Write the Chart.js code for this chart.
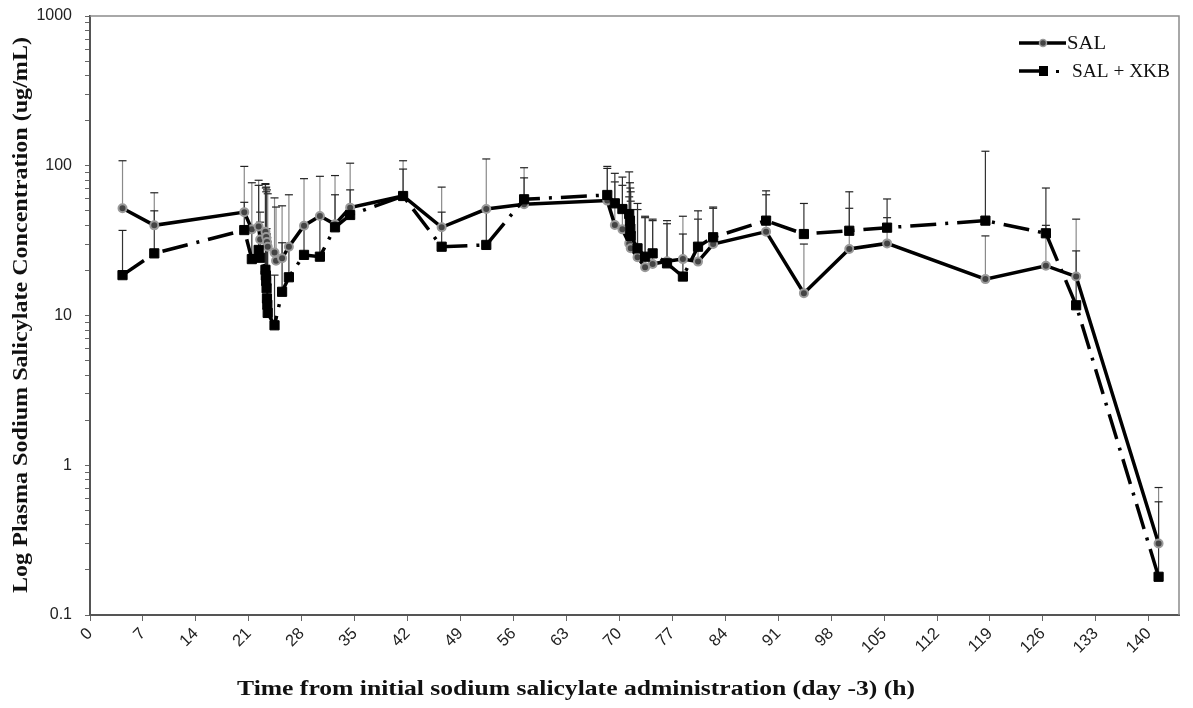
<!DOCTYPE html>
<html>
<head>
<meta charset="utf-8">
<script src="https://cdn.jsdelivr.net/npm/chart.js@4/dist/chart.umd.min.js"></script>
<style>
  body { margin: 0; background: #fff; }
  canvas { display: block; }
</style>
</head>
<body>
<canvas id="canvas" width="1193" height="708"></canvas>
<script>
"use strict";

// time (h) and mean concentration (ug/mL), upper error bar end
var salTime = [4.3, 8.5, 20.4, 21.4, 22.3, 22.5, 23.2, 23.3, 23.4, 23.5, 24.4, 24.6, 25.4, 26.3, 28.3, 30.4, 32.4, 34.4, 41.4, 46.5, 52.4, 57.4, 68.4, 69.4, 70.4, 71.3, 71.5, 72.4, 73.4, 74.4, 76.3, 78.4, 80.4, 82.4, 89.4, 94.4, 100.4, 105.4, 118.4, 126.4, 130.4, 141.3];
var salConc = [52, 40, 49, 37.6, 39.3, 32.2, 36.2, 33.4, 31, 28.8, 26.3, 23.2, 24.1, 28.8, 39.8, 46.2, 40.6, 52.5, 62.8, 38.8, 51.4, 55.3, 58.5, 40.2, 37.6, 30.3, 28.1, 24.5, 21, 22.1, 23, 23.8, 22.9, 30, 36.3, 14.1, 27.8, 30.3, 17.5, 21.5, 18.2, 0.3];
var salUpper = [108, 66, 99, 77, 80, 49, 76, 72, 69, 65, 61, 53, 54, 64, 82, 85, 86, 104, 108, 72, 111, 97, 99, 78, 74, 62, 58, 51, 45, 43, 43, 46, 44, 52, 64, 30, 52, 45, 34, 40, 44, 0.71];

var xkbTime = [4.3, 8.5, 20.4, 21.4, 22.3, 22.5, 23.2, 23.25, 23.3, 23.35, 23.4, 23.45, 23.5, 24.4, 25.4, 26.3, 28.3, 30.4, 32.4, 34.4, 41.4, 46.5, 52.4, 57.4, 68.4, 69.4, 70.4, 71.3, 71.4, 71.45, 71.5, 72.4, 73.4, 74.4, 76.3, 78.4, 80.4, 82.4, 89.4, 94.4, 100.4, 105.4, 118.4, 126.4, 130.4, 141.3];
var xkbConc = [18.6, 26, 37.2, 23.8, 27.4, 24.3, 20.2, 18.5, 17, 15.2, 13, 11.8, 10.4, 8.6, 14.4, 18, 25.4, 24.7, 38.8, 46.9, 62.8, 28.8, 29.6, 59.7, 63.8, 56.1, 51.4, 47.6, 43, 38, 34, 28.1, 24.7, 26, 22.3, 18.2, 28.8, 33.3, 43, 35, 36.8, 38.6, 43, 35.4, 11.7, 0.18];
var xkbUpper = [37, 50, 57, 37, 74, 42, 75, 71, 67, 38, 35, 33, 31, 18.6, 30.6, 29, 39, 46, 64, 69, 95, 49, 51, 83, 96, 89, 84, 91, 77, 71, 67, 56, 46, 44, 41, 35, 50, 53, 68, 56, 67, 60, 125, 71, 27, 0.57];

var xTicks = [0, 7, 14, 21, 28, 35, 42, 49, 56, 63, 70, 77, 84, 91, 98, 105, 112, 119, 126, 133, 140];
var yDecades = [0.1, 1, 10, 100, 1000];

var serif = "'Liberation Serif', 'Times New Roman', serif";
var sans = "'Liberation Sans', Arial, sans-serif";

function points(xs, ys) {
  return xs.map(function(x, i) { return { x: x, y: ys[i] }; });
}

// minor log ticks 1..9 in each decade
var yTicks = [];
yDecades.forEach(function(d, i) {
  if (i === yDecades.length - 1) { yTicks.push(d); return; }
  for (var k = 1; k <= 9; k++) yTicks.push(+(d * k).toPrecision(3));
});

// text stretched to a given width (reference uses a wider serif)
function wideText(ctx, text, x, y, width, rot) {
  ctx.save();
  ctx.translate(x, y);
  if (rot) ctx.rotate(rot);
  var w = ctx.measureText(text).width;
  ctx.scale(width / w, 1);
  ctx.fillText(text, 0, 0);
  ctx.restore();
}

var errorBars = {
  id: 'errorBars',
  beforeDatasetsDraw: function(chart) {
    var ctx = chart.ctx, xs = chart.scales.x, ys = chart.scales.y;
    var sets = [
      { t: salTime, v: salConc, u: salUpper, col: '#8a8a8a' },
      { t: xkbTime, v: xkbConc, u: xkbUpper, col: '#333' }
    ];
    ctx.save();
    sets.forEach(function(s) {
      s.t.forEach(function(t, i) {
        var x = xs.getPixelForValue(t);
        var y0 = ys.getPixelForValue(s.v[i]);
        var y1 = ys.getPixelForValue(s.u[i]);
        ctx.strokeStyle = s.col;
        ctx.lineWidth = 1.2;
        ctx.beginPath();
        ctx.moveTo(x, y0);
        ctx.lineTo(x, y1);
        ctx.stroke();
        ctx.strokeStyle = '#222';
        ctx.beginPath();
        ctx.moveTo(x - 4, y1);
        ctx.lineTo(x + 4, y1);
        ctx.stroke();
      });
    });
    ctx.restore();
  },
  afterDraw: function(chart) {
    var ctx = chart.ctx, a = chart.chartArea;
    ctx.save();
    // frame on top and right
    ctx.strokeStyle = '#8c8c8c';
    ctx.lineWidth = 1.5;
    ctx.beginPath();
    ctx.moveTo(a.left, a.top);
    ctx.lineTo(a.right, a.top);
    ctx.lineTo(a.right, a.bottom);
    ctx.stroke();

    // legend
    ctx.lineCap = 'butt';
    ctx.strokeStyle = '#000';
    ctx.lineWidth = 3.5;
    ctx.beginPath();
    ctx.moveTo(1019, 43);
    ctx.lineTo(1066, 43);
    ctx.stroke();
    ctx.fillStyle = '#444';
    ctx.strokeStyle = '#9a9a9a';
    ctx.lineWidth = 1.5;
    ctx.beginPath();
    ctx.arc(1043, 43, 3.5, 0, Math.PI * 2);
    ctx.fill();
    ctx.stroke();

    ctx.strokeStyle = '#000';
    ctx.lineWidth = 3.5;
    ctx.beginPath();
    ctx.moveTo(1019, 71);
    ctx.lineTo(1040, 71);
    ctx.stroke();
    ctx.fillStyle = '#000';
    ctx.fillRect(1039, 66, 9, 10);
    ctx.fillRect(1056, 70, 3, 3);

    ctx.fillStyle = '#111';
    ctx.font = '19px ' + serif;
    ctx.textBaseline = 'middle';
    ctx.textAlign = 'left';
    wideText(ctx, 'SAL', 1067, 44, 39);
    wideText(ctx, 'SAL + XKB', 1072, 72, 98);

    // axis titles
    ctx.font = 'bold 20px ' + serif;
    ctx.textAlign = 'left';
    wideText(ctx, 'Time from initial sodium salicylate administration (day -3) (h)', 237, 690, 678);
    wideText(ctx, 'Log Plasma Sodium Salicylate Concentration (ug/mL)', 22, 593, 556, -Math.PI / 2);
    ctx.restore();
  }
};

window.onload = function() {
  var ctx = document.getElementById('canvas').getContext('2d');
  window.myChart = new Chart(ctx, {
    type: 'line',
    data: {
      datasets: [{
        label: 'SAL',
        data: points(salTime, salConc),
        borderColor: '#000',
        borderWidth: 3.5,
        pointStyle: 'circle',
        pointRadius: 4,
        pointBackgroundColor: '#444',
        pointBorderColor: '#9a9a9a',
        pointBorderWidth: 2,
        tension: 0,
        order: 1
      }, {
        label: 'SAL + XKB',
        data: points(xkbTime, xkbConc),
        borderColor: '#000',
        borderWidth: 3.5,
        borderDash: [26, 9, 3, 9],
        pointStyle: 'rect',
        pointRadius: 6.5,
        pointBackgroundColor: '#000',
        pointBorderColor: '#000',
        pointBorderWidth: 1,
        tension: 0,
        order: 0
      }]
    },
    options: {
      responsive: false,
      animation: false,
      layout: { padding: { top: 16, right: 14, left: 0, bottom: 0 } },
      plugins: {
        legend: { display: false },
        tooltip: { enabled: false }
      },
      scales: {
        x: {
          type: 'linear',
          min: 0,
          max: 144,
          afterFit: function(scale) {
            scale.height = 93;
            scale.paddingLeft = 0;
            scale.paddingRight = 0;
          },
          afterBuildTicks: function(scale) {
            scale.ticks = xTicks.map(function(v) { return { value: v }; });
          },
          ticks: {
            minRotation: 45,
            maxRotation: 45,
            padding: 3,
            color: '#222',
            font: { family: sans, size: 16.5 }
          },
          grid: { drawOnChartArea: false, drawTicks: true, tickLength: 6, color: '#666' },
          border: { color: '#555', width: 2 }
        },
        y: {
          type: 'logarithmic',
          min: 0.1,
          max: 1000,
          afterFit: function(scale) {
            scale.width = 90;
            scale.paddingTop = 0;
            scale.paddingBottom = 0;
          },
          afterBuildTicks: function(scale) {
            scale.ticks = yTicks.map(function(v) { return { value: v }; });
          },
          ticks: {
            autoSkip: false,
            padding: 13,
            color: '#222',
            font: { family: sans, size: 16 },
            callback: function(v) {
              var l = Math.log10(v);
              return Math.abs(l - Math.round(l)) < 1e-6 ? String(v) : '';
            }
          },
          grid: { drawOnChartArea: false, drawTicks: true, tickLength: 5, color: '#666' },
          border: { color: '#555', width: 2 }
        }
      }
    },
    plugins: [errorBars]
  });
};
</script>
</body>
</html>
